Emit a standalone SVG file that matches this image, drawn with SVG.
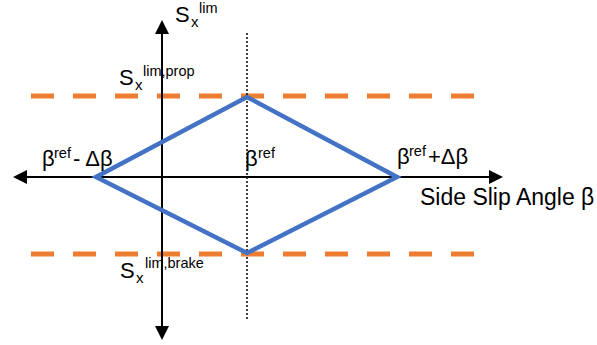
<svg xmlns="http://www.w3.org/2000/svg" width="597" height="345" viewBox="0 0 597 345">
<style>
  .t { font-family: "Liberation Sans", Arial, sans-serif; fill: #000; }
  .big { font-size: 22px; }
  .sup { font-size: 14.5px; }
  .sub { font-size: 15px; }
  .axis { stroke: #000; stroke-width: 2; fill: none; }
  .lim { stroke: #ED7D31; stroke-width: 5; stroke-dasharray: 23 19; fill: none; }
  .dot { stroke: #000; stroke-width: 1.5; stroke-dasharray: 2 2; fill: none; }
  .diamond { stroke: #4472C4; stroke-width: 4.5; fill: none; stroke-linejoin: miter; }
</style>
<defs>
  <marker id="arr" viewBox="0 0 14 14" markerWidth="14" markerHeight="14" refX="0" refY="7" orient="auto-start-reverse" markerUnits="userSpaceOnUse">
    <path d="M0,0 L14,7 L0,14 z" fill="#000"/>
  </marker>
</defs>
<g id="connectors">
  <line id="limit-prop" class="lim" x1="31" y1="96" x2="476" y2="96"/>
  <line id="limit-brake" class="lim" x1="31" y1="254" x2="476" y2="254"/>
  <line id="ref-line" class="dot" x1="247" y1="33" x2="247" y2="320"/>
  <line id="y-axis" class="axis" x1="162" y1="34" x2="162" y2="326" marker-start="url(#arr)" marker-end="url(#arr)"/>
  <line id="x-axis" class="axis" x1="27" y1="177" x2="489" y2="177" marker-start="url(#arr)" marker-end="url(#arr)"/>
  <polygon id="diamond" class="diamond" points="96,177 247,97 397,177 247,253"/>
</g>
<g id="label-sxlim">
  <text class="t big" x="175" y="22">S</text>
  <text class="t sub" x="191" y="27">x</text>
  <text class="t sup" x="199" y="13">lim</text>
</g>
<g id="label-prop">
  <text class="t big" x="119" y="85">S</text>
  <text class="t sub" x="135" y="90">x</text>
  <text class="t sup" x="143" y="76">lim,prop</text>
</g>
<g id="label-brake">
  <text class="t big" x="120" y="278">S</text>
  <text class="t sub" x="136" y="283">x</text>
  <text class="t sup" x="145" y="268">lim,brake</text>
</g>
<g id="label-minus">
  <text class="t big" x="42" y="166">β</text>
  <text class="t sup" x="54" y="158">ref</text>
  <text class="t big" x="73" y="166">- Δβ</text>
</g>
<g id="label-ref">
  <text class="t big" x="245" y="166">β</text>
  <text class="t sup" x="258" y="158">ref</text>
</g>
<g id="label-plus">
  <text class="t big" x="397" y="164">β</text>
  <text class="t sup" x="409" y="156">ref</text>
  <text class="t big" x="428" y="164">+Δβ</text>
</g>
<g id="label-axis">
  <text class="t" font-size="23" x="420" y="205">Side Slip Angle β</text>
</g>
</svg>
